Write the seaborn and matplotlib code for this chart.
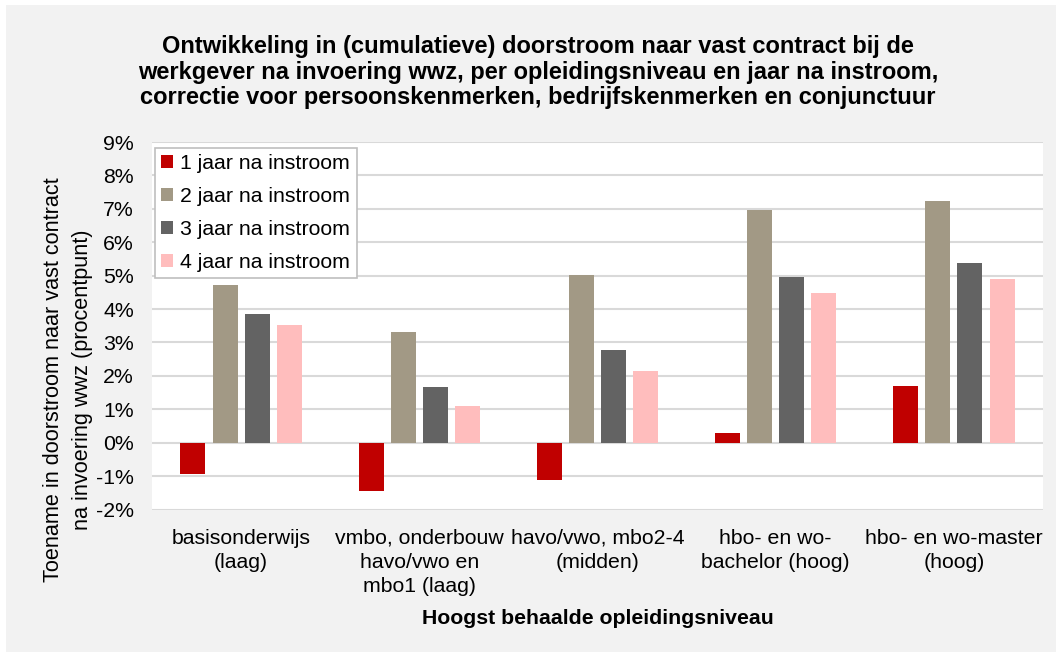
import matplotlib
matplotlib.use("Agg")
import matplotlib.pyplot as plt
import matplotlib.patches as mpatches
import seaborn as sns
import pandas as pd
from matplotlib.ticker import FuncFormatter

# opleidingsniveaus (x-as)
niveaus = [
    "basisonderwijs\n(laag)",
    "vmbo, onderbouw\nhavo/vwo en\nmbo1 (laag)",
    "havo/vwo, mbo2-4\n(midden)",
    "hbo- en wo-\nbachelor (hoog)",
    "hbo- en wo-master\n(hoog)",
]
reeksen = ["1 jaar na instroom", "2 jaar na instroom",
           "3 jaar na instroom", "4 jaar na instroom"]

# toename in procentpunt, per jaar na instroom
jaar1 = [-0.93, -1.44, -1.13, 0.29, 1.69]
jaar2 = [4.72, 3.30, 5.03, 6.95, 7.22]
jaar3 = [3.86, 1.67, 2.78, 4.96, 5.37]
jaar4 = [3.53, 1.10, 2.14, 4.48, 4.90]

kleuren = ["#C00000", "#A29985", "#636363", "#FFBDBD"]

rows = []
for reeks, waarden in zip(reeksen, [jaar1, jaar2, jaar3, jaar4]):
    for niveau, w in zip(niveaus, waarden):
        rows.append({"niveau": niveau, "reeks": reeks, "waarde": w})
df = pd.DataFrame(rows)

sns.set_style("white")
plt.rcParams["font.family"] = ["Liberation Sans", "DejaVu Sans"]
plt.rcParams["text.color"] = "black"
plt.rcParams["axes.labelcolor"] = "black"

W, H = 1062, 657
fig = plt.figure(figsize=(W / 100, H / 100), dpi=100)
fig.patch.set_facecolor("white")
# grijze achtergrond met smalle witte rand
fig.patches.append(mpatches.Rectangle((6 / W, 5 / H), 1050 / W, 647 / H,
                                      transform=fig.transFigure, facecolor="#F2F2F2",
                                      edgecolor="none", zorder=-10))

ax = fig.add_axes([152 / W, 1 - 509.5 / H, 891 / W, 367.5 / H])
ax.set_facecolor("white")

sns.barplot(data=df, x="niveau", y="waarde", hue="reeks", palette=kleuren,
            width=0.72, gap=0.22, ax=ax, saturation=1, errorbar=None,
            edgecolor="none", zorder=3)

ax.set_ylim(-2, 9)
ax.set_yticks(range(-2, 10))
ax.yaxis.set_major_formatter(FuncFormatter(lambda v, p: f"{int(v)}%"))
ax.grid(axis="y", color="#D9D9D9", linewidth=1.5, zorder=0)
ax.set_axisbelow(True)
for s in ax.spines.values():
    s.set_visible(False)
ax.tick_params(axis="both", length=0, labelsize=15.3, colors="black")
ax.tick_params(axis="x", pad=14)
ax.tick_params(axis="y", pad=13)
for lbl in ax.get_xticklabels():
    lbl.set_linespacing(1.35)

ax.set_xlabel("Hoogst behaalde opleidingsniveau", fontsize=15.3, fontweight="bold",
              va="center")
ax.xaxis.set_label_coords(0.5, (509.5 - 619) / 367.5)
ax.set_ylabel("")
fig.text(68 / W, 1 - 380 / H,
         "Toename in doorstroom naar vast contract\nna invoering wwz (procentpunt)",
         rotation=90, ha="center", va="center", multialignment="center",
         fontsize=15.6, linespacing=1.5)

leg = ax.legend(loc="upper left", bbox_to_anchor=(3 / 891, 1 - 6 / 367.5), fontsize=15.3,
                frameon=True, fancybox=False, edgecolor="#BFBFBF", framealpha=1,
                handlelength=0.55, handleheight=0.55, handletextpad=0.35,
                labelspacing=0.65, borderpad=0.3, borderaxespad=0)
leg.get_frame().set_linewidth(1.2)

fig.text(538 / W, 1 - 72 / H,
         "Ontwikkeling in (cumulatieve) doorstroom naar vast contract bij de\n"
         "werkgever na invoering wwz, per opleidingsniveau en jaar na instroom,\n"
         "correctie voor persoonskenmerken, bedrijfskenmerken en conjunctuur",
         ha="center", va="center", fontsize=17, fontweight="bold", linespacing=1.15)

fig.savefig("out.png", dpi=100, facecolor=fig.get_facecolor())
